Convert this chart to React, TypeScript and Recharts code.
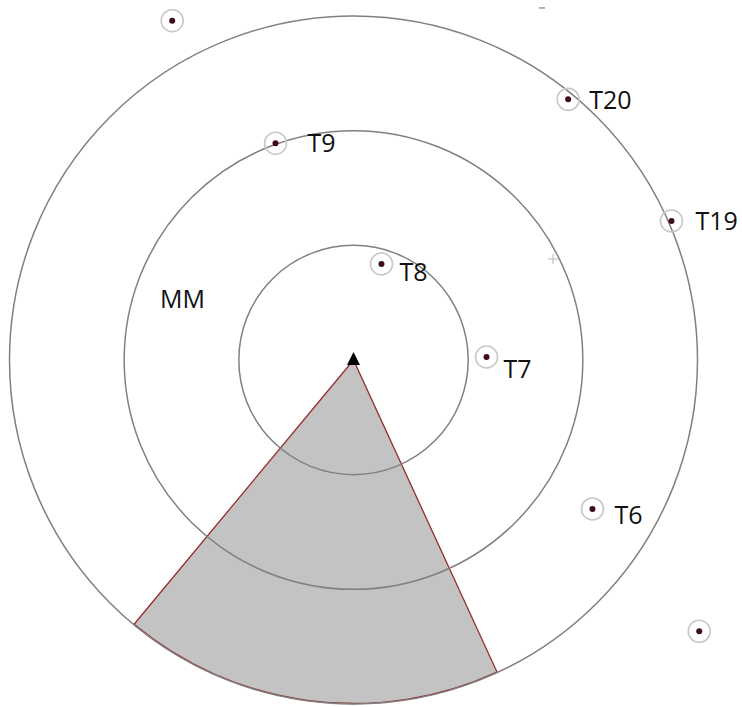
import React from 'react';
import { ScatterChart, Scatter, XAxis, YAxis, PieChart, Pie, Cell } from 'recharts';

// ---- data (metres, station at origin, y = north) ----
const ringRadii = [10, 20, 30];
const targetLabels = ['T20', 'T19', 'T9', 'T8', 'T7', 'T6', '', ''];
const targetX = [18.72, 27.73, -6.8, 2.44, 11.6, 20.84, -15.81, 30.15];
const targetY = [22.73, 12.12, 18.9, 8.37, 0.26, -12.99, 29.59, -23.66];
const wedgeBearings = [155.3, 219.7]; // degrees clockwise from north
const wedgeRange = 30;
const annotationText = ['MM'];
const annotationX = [-14.91];
const annotationY = [5.41];
const crossX = [17.4];
const crossY = [8.81];
const dashX = [16.44];
const dashY = [30.7];

// ---- layout / style ----
const W = 742;
const H = 707;
const CX = 353.5;
const CY = 360;
const PX_PER_M = 344 / 30;
const labelNudge: Record<string, [number, number]> = {
  T20: [21, 10],
  T19: [24, 9],
  T9: [32, 9],
  T8: [18, 17],
  T7: [17, 21],
  T6: [22, 15],
};
const FONT = '"Open Sans", "Noto Sans", sans-serif';

const targets = targetX.map((x, i) => ({ x, y: targetY[i], label: targetLabels[i] }));
const rings = ringRadii.map((r) => ({ x: 0, y: 0, r }));
const station = [{ x: 0, y: 0 }];
const annotations = annotationText.map((t, i) => ({ x: annotationX[i], y: annotationY[i], text: t }));
const crosses = crossX.map((x, i) => ({ x, y: crossY[i] }));
const dashes = dashX.map((x, i) => ({ x, y: dashY[i] }));
const wedgeData = [{ name: 'sector', value: 1 }];

const xDomain = [-CX / PX_PER_M, (W - CX) / PX_PER_M];
const yDomain = [-(H - CY) / PX_PER_M, CY / PX_PER_M];

const RingShape = (p: any) => (
  <circle cx={p.cx} cy={p.cy} r={p.payload.r * PX_PER_M} fill="none" stroke="#808080" strokeWidth={1.5} />
);

const TargetShape = (p: any) => {
  const lab = p.payload.label;
  const n = labelNudge[lab] || [22, 9];
  return (
    <g>
      <circle cx={p.cx} cy={p.cy} r={11} fill="none" stroke="#c8c8c8" strokeWidth={1.6} />
      <circle cx={p.cx} cy={p.cy} r={3} fill="#3d0b1c" />
      {lab ? (
        <text x={p.cx + n[0]} y={p.cy + n[1]} fontSize={25} fontFamily={FONT} fill="#111">
          {lab}
        </text>
      ) : null}
    </g>
  );
};

const StationShape = (p: any) => (
  <path d={`M${p.cx},${p.cy - 8} L${p.cx - 6.5},${p.cy + 5} L${p.cx + 6.5},${p.cy + 5} Z`} fill="#000" />
);

const AnnotationShape = (p: any) => (
  <text x={p.cx} y={p.cy} fontSize={25} fontFamily={FONT} fill="#111" textAnchor="middle" dominantBaseline="central">
    {p.payload.text}
  </text>
);

const CrossShape = (p: any) => (
  <g stroke="#b5b5b5" strokeWidth={1}>
    <line x1={p.cx - 5} y1={p.cy} x2={p.cx + 5} y2={p.cy} />
    <line x1={p.cx} y1={p.cy - 5} x2={p.cx} y2={p.cy + 5} />
  </g>
);

const DashShape = (p: any) => (
  <line x1={p.cx - 3} y1={p.cy} x2={p.cx + 3} y2={p.cy} stroke="#9a9a9a" strokeWidth={1.5} />
);

export default function App() {
  const startAngle = 90 - wedgeBearings[0];
  const endAngle = 90 - wedgeBearings[1];
  return (
    <div style={{ position: 'fixed', left: 0, top: 0, width: W, height: H, background: '#fff' }}>
      <div style={{ position: 'absolute', left: 0, top: 0 }}>
        <PieChart width={W} height={H} margin={{ top: 0, right: 0, bottom: 0, left: 0 }}>
          <Pie
            data={wedgeData}
            dataKey="value"
            cx={CX}
            cy={CY}
            innerRadius={0}
            outerRadius={wedgeRange * PX_PER_M - 0.5}
            startAngle={startAngle}
            endAngle={endAngle}
            isAnimationActive={false}
            label={false}
            labelLine={false}
          >
            <Cell fill="#c3c3c3" stroke="#962b2b" strokeWidth={1.3} />
          </Pie>
        </PieChart>
      </div>
      <div style={{ position: 'absolute', left: 0, top: 0 }}>
        <ScatterChart width={W} height={H} margin={{ top: 0, right: 0, bottom: 0, left: 0 }}>
          <XAxis type="number" dataKey="x" domain={xDomain} hide allowDataOverflow />
          <YAxis type="number" dataKey="y" domain={yDomain} hide allowDataOverflow />
          <Scatter data={rings} shape={RingShape} isAnimationActive={false} />
          <Scatter data={crosses} shape={CrossShape} isAnimationActive={false} />
          <Scatter data={dashes} shape={DashShape} isAnimationActive={false} />
          <Scatter data={annotations} shape={AnnotationShape} isAnimationActive={false} />
          <Scatter data={targets} shape={TargetShape} isAnimationActive={false} />
          <Scatter data={station} shape={StationShape} isAnimationActive={false} />
        </ScatterChart>
      </div>
    </div>
  );
}
